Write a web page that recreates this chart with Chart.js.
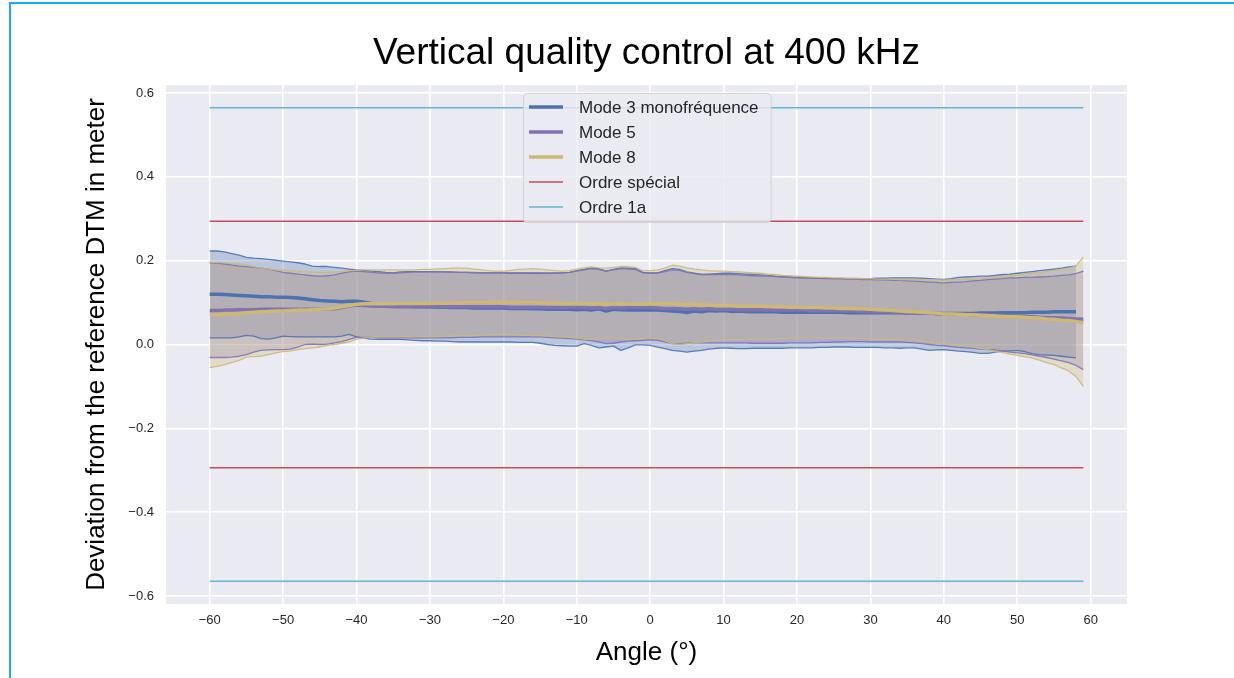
<!DOCTYPE html>
<html>
<head>
<meta charset="utf-8">
<script src="https://cdn.jsdelivr.net/npm/chart.js@4.4.1/dist/chart.umd.min.js"></script>
<style>
  html, body { margin:0; padding:0; background:#fff; overflow:hidden; }
  #wrap { position:relative; width:1234px; height:678px; }
  #frame { position:absolute; left:9px; top:2px; width:1400px; height:900px; border:2px solid #14aeee; box-sizing:border-box; pointer-events:none; }
  canvas { position:absolute; left:0; top:0; }
</style>
</head>
<body>
<div id="wrap">
  <canvas id="c" width="1234" height="678"></canvas>
  <div id="frame"></div>
</div>
<script>
// ---------- DATA ----------
const angles = [-60,-59,-58,-57,-56,-55,-54,-53,-52,-51,-50,-49,-48,-47,-46,-45,-44,-43,-42,-41,
  -40,-39,-38,-37,-36,-35,-34,-33,-32,-31,-30,-29,-28,-27,-26,-25,-24,-23,-22,-21,
  -20,-19,-18,-17,-16,-15,-14,-13,-12,-11,-10,-9,-8,-7,-6,-5,-4,-3,-2,-1,
  0,1,2,3,4,5,6,7,8,9,10,11,12,13,14,15,16,17,18,19,
  20,21,22,23,24,25,26,27,28,29,30,31,32,33,34,35,36,37,38,39,
  40,41,42,43,44,45,46,47,48,49,50,51,52,53,54,55,56,57,58,59];

// Mode 3 monofréquence (ends at 58°)
const mode3Mean = [0.120,0.120,0.119,0.118,0.117,0.116,0.115,0.114,0.114,0.113,
  0.113,0.112,0.111,0.109,0.107,0.105,0.104,0.103,0.102,0.103,
  0.103,0.101,0.098,0.094,0.093,0.092,0.091,0.091,0.090,0.090,
  0.090,0.089,0.089,0.088,0.088,0.088,0.087,0.087,0.087,0.087,
  0.087,0.086,0.086,0.086,0.085,0.085,0.084,0.084,0.084,0.084,
  0.083,0.084,0.082,0.085,0.080,0.084,0.083,0.082,0.083,0.082,
  0.083,0.082,0.081,0.080,0.079,0.076,0.080,0.078,0.081,0.080,
  0.081,0.079,0.080,0.079,0.078,0.078,0.078,0.078,0.077,0.077,
  0.077,0.077,0.077,0.077,0.077,0.077,0.077,0.076,0.076,0.076,
  0.076,0.076,0.076,0.076,0.076,0.075,0.075,0.075,0.075,0.074,
  0.074,0.074,0.074,0.074,0.074,0.075,0.075,0.075,0.076,0.076,
  0.076,0.076,0.077,0.077,0.077,0.078,0.078,0.078,0.078];
const mode3Upper = [0.223,0.223,0.221,0.217,0.213,0.208,0.206,0.205,0.203,0.201,
  0.199,0.197,0.195,0.192,0.187,0.186,0.186,0.184,0.182,0.180,
  0.178,0.177,0.175,0.174,0.172,0.171,0.173,0.174,0.174,0.174,
  0.174,0.174,0.173,0.173,0.172,0.172,0.171,0.171,0.171,0.171,
  0.171,0.170,0.171,0.170,0.170,0.170,0.170,0.171,0.171,0.172,
  0.176,0.179,0.183,0.181,0.175,0.179,0.183,0.182,0.181,0.172,
  0.171,0.171,0.176,0.181,0.179,0.173,0.170,0.167,0.168,0.169,
  0.170,0.170,0.169,0.168,0.167,0.166,0.165,0.163,0.162,0.161,
  0.160,0.159,0.159,0.158,0.158,0.157,0.157,0.157,0.157,0.157,
  0.157,0.158,0.158,0.159,0.159,0.159,0.159,0.158,0.157,0.156,
  0.155,0.157,0.160,0.161,0.162,0.163,0.163,0.165,0.167,0.168,
  0.170,0.172,0.174,0.176,0.178,0.180,0.182,0.185,0.187];
const mode3Lower = [0.016,0.016,0.016,0.016,0.018,0.022,0.020,0.014,0.013,0.016,
  0.020,0.019,0.018,0.018,0.018,0.018,0.018,0.018,0.020,0.024,
  0.018,0.015,0.013,0.012,0.012,0.012,0.012,0.011,0.010,0.009,
  0.009,0.008,0.008,0.007,0.006,0.006,0.006,0.006,0.006,0.006,
  0.006,0.006,0.005,0.005,0.005,0.003,0.000,-0.002,-0.003,-0.004,
  -0.004,0.002,-0.002,-0.008,-0.006,-0.004,-0.014,-0.008,-0.001,-0.001,
  -0.002,-0.006,-0.010,-0.014,-0.016,-0.018,-0.016,-0.014,-0.011,-0.009,
  -0.008,-0.009,-0.010,-0.010,-0.009,-0.009,-0.009,-0.009,-0.009,-0.008,
  -0.008,-0.008,-0.008,-0.007,-0.007,-0.006,-0.006,-0.006,-0.007,-0.007,
  -0.007,-0.007,-0.008,-0.008,-0.009,-0.008,-0.008,-0.011,-0.014,-0.013,
  -0.012,-0.014,-0.016,-0.017,-0.019,-0.021,-0.021,-0.018,-0.016,-0.015,
  -0.014,-0.017,-0.022,-0.024,-0.025,-0.026,-0.028,-0.030,-0.032];

// Mode 5
const mode5Mean = [0.081,0.081,0.082,0.082,0.083,0.083,0.083,0.084,0.084,0.084,
  0.084,0.084,0.084,0.084,0.084,0.084,0.085,0.085,0.088,0.092,
  0.094,0.093,0.092,0.091,0.091,0.090,0.090,0.090,0.090,0.090,
  0.090,0.090,0.090,0.090,0.090,0.090,0.090,0.090,0.090,0.090,
  0.090,0.089,0.089,0.089,0.089,0.089,0.088,0.088,0.088,0.088,
  0.088,0.088,0.087,0.088,0.086,0.088,0.087,0.088,0.088,0.088,
  0.088,0.087,0.086,0.086,0.085,0.084,0.085,0.084,0.085,0.084,
  0.084,0.084,0.083,0.083,0.083,0.083,0.082,0.082,0.082,0.082,
  0.082,0.082,0.081,0.081,0.081,0.081,0.080,0.080,0.080,0.079,
  0.079,0.078,0.078,0.077,0.077,0.076,0.076,0.075,0.075,0.074,
  0.073,0.073,0.072,0.072,0.071,0.071,0.070,0.070,0.069,0.068,
  0.068,0.067,0.066,0.065,0.064,0.064,0.063,0.062,0.061,0.060];
const mode5Upper = [0.195,0.194,0.192,0.190,0.187,0.186,0.184,0.182,0.180,0.176,
  0.172,0.170,0.168,0.166,0.164,0.163,0.164,0.166,0.170,0.173,
  0.175,0.174,0.172,0.171,0.170,0.170,0.171,0.172,0.173,0.173,
  0.173,0.173,0.173,0.172,0.172,0.172,0.172,0.171,0.171,0.171,
  0.171,0.171,0.171,0.171,0.171,0.171,0.170,0.170,0.171,0.172,
  0.175,0.178,0.181,0.179,0.175,0.178,0.181,0.180,0.179,0.171,
  0.170,0.170,0.174,0.178,0.177,0.172,0.169,0.167,0.167,0.167,
  0.167,0.167,0.166,0.165,0.164,0.163,0.163,0.162,0.161,0.160,
  0.159,0.159,0.158,0.158,0.157,0.157,0.157,0.156,0.156,0.155,
  0.155,0.154,0.154,0.153,0.153,0.152,0.151,0.150,0.149,0.148,
  0.147,0.148,0.149,0.150,0.152,0.153,0.155,0.156,0.157,0.159,
  0.159,0.160,0.160,0.161,0.162,0.163,0.165,0.166,0.169,0.175];
const mode5Lower = [-0.031,-0.031,-0.031,-0.030,-0.028,-0.024,-0.018,-0.014,-0.013,-0.012,
  -0.012,-0.011,-0.006,0.000,0.001,0.000,0.001,0.004,0.007,0.012,
  0.017,0.017,0.017,0.016,0.016,0.016,0.016,0.016,0.016,0.016,
  0.016,0.016,0.016,0.016,0.017,0.017,0.017,0.018,0.018,0.018,
  0.018,0.018,0.018,0.018,0.018,0.018,0.017,0.016,0.015,0.014,
  0.013,0.011,0.009,0.006,0.002,0.003,0.006,0.008,0.009,0.010,
  0.011,0.010,0.006,0.002,0.002,0.003,0.004,0.004,0.004,0.004,
  0.004,0.004,0.004,0.004,0.003,0.003,0.003,0.003,0.003,0.004,
  0.004,0.004,0.004,0.005,0.005,0.006,0.006,0.007,0.007,0.007,
  0.006,0.006,0.006,0.006,0.006,0.005,0.004,0.002,0.000,-0.002,
  -0.003,-0.005,-0.007,-0.008,-0.009,-0.011,-0.012,-0.013,-0.015,-0.018,
  -0.020,-0.022,-0.025,-0.028,-0.031,-0.035,-0.039,-0.043,-0.050,-0.060];

// Mode 8
const mode8Mean = [0.070,0.071,0.072,0.073,0.074,0.076,0.077,0.078,0.079,0.080,
  0.080,0.081,0.082,0.082,0.083,0.084,0.085,0.087,0.090,0.093,
  0.096,0.097,0.097,0.097,0.097,0.097,0.098,0.098,0.098,0.098,
  0.098,0.099,0.099,0.099,0.099,0.100,0.100,0.100,0.100,0.101,
  0.101,0.101,0.100,0.100,0.100,0.099,0.099,0.099,0.098,0.098,
  0.098,0.098,0.097,0.098,0.096,0.097,0.097,0.097,0.096,0.096,
  0.097,0.097,0.097,0.097,0.096,0.095,0.096,0.094,0.094,0.093,
  0.093,0.093,0.092,0.092,0.092,0.091,0.091,0.090,0.090,0.089,
  0.089,0.088,0.088,0.088,0.087,0.087,0.086,0.086,0.085,0.085,
  0.084,0.083,0.082,0.081,0.080,0.079,0.078,0.077,0.076,0.075,
  0.073,0.073,0.072,0.071,0.071,0.070,0.069,0.068,0.067,0.066,
  0.066,0.065,0.064,0.063,0.061,0.060,0.058,0.057,0.055,0.052];
const mode8Upper = [0.196,0.196,0.195,0.193,0.192,0.190,0.186,0.182,0.180,0.178,
  0.177,0.176,0.175,0.174,0.173,0.172,0.172,0.173,0.174,0.176,
  0.177,0.178,0.178,0.178,0.178,0.178,0.178,0.178,0.178,0.179,
  0.179,0.180,0.181,0.182,0.182,0.182,0.180,0.178,0.176,0.175,
  0.175,0.177,0.179,0.180,0.181,0.180,0.178,0.176,0.175,0.176,
  0.180,0.183,0.185,0.183,0.182,0.184,0.186,0.186,0.184,0.176,
  0.176,0.178,0.182,0.189,0.187,0.183,0.180,0.178,0.176,0.175,
  0.175,0.174,0.173,0.172,0.171,0.170,0.168,0.167,0.165,0.164,
  0.163,0.162,0.161,0.160,0.160,0.159,0.159,0.158,0.158,0.157,
  0.157,0.156,0.156,0.156,0.155,0.155,0.155,0.155,0.154,0.154,
  0.154,0.154,0.155,0.155,0.156,0.157,0.158,0.160,0.162,0.164,
  0.166,0.168,0.170,0.172,0.174,0.176,0.179,0.182,0.187,0.209];
const mode8Lower = [-0.055,-0.052,-0.048,-0.043,-0.038,-0.030,-0.029,-0.028,-0.024,-0.020,
  -0.017,-0.015,-0.012,-0.010,-0.008,-0.006,-0.002,0.000,0.003,0.006,
  0.012,0.016,0.017,0.018,0.018,0.018,0.018,0.018,0.019,0.019,
  0.019,0.019,0.020,0.020,0.021,0.021,0.022,0.023,0.023,0.024,
  0.024,0.024,0.023,0.022,0.021,0.021,0.020,0.019,0.018,0.017,
  0.015,0.013,0.012,0.014,0.016,0.015,0.014,0.013,0.013,0.014,
  0.015,0.016,0.010,0.002,0.000,0.002,0.004,0.006,0.008,0.010,
  0.012,0.012,0.012,0.013,0.013,0.013,0.013,0.014,0.014,0.015,
  0.015,0.016,0.016,0.016,0.016,0.016,0.016,0.015,0.015,0.014,
  0.014,0.013,0.013,0.012,0.012,0.011,0.010,0.008,0.006,0.004,
  0.002,0.000,-0.002,-0.004,-0.006,-0.009,-0.012,-0.016,-0.019,-0.023,
  -0.026,-0.029,-0.032,-0.037,-0.043,-0.048,-0.056,-0.063,-0.076,-0.100];

// Tolerance lines (IHO orders)
const limitRange = [-60, 59];
const ordreSpecial = [0.294, -0.294];
const ordre1a = [0.565, -0.565];

// Labels / ticks
const legendLabels = ['Mode 3 monofréquence', 'Mode 5', 'Mode 8', 'Ordre spécial', 'Ordre 1a'];
const xTicks = [-60,-50,-40,-30,-20,-10,0,10,20,30,40,50,60];
const yTicks = [-0.6,-0.4,-0.2,0.0,0.2,0.4,0.6];
const titleText = 'Vertical quality control at 400 kHz';
const xTitle = 'Angle (°)';
const yTitle = 'Deviation from the reference DTM in meter';

// ---------- STYLE ----------
const C = { blue:'#4C72B0', purple:'#8172B2', yellow:'#CCB974', red:'#C44E52', cyan:'#64B5CD' };
const FONT = '"Liberation Sans", Arial, Helvetica, sans-serif';
function rgba(hex, a){ const n=parseInt(hex.slice(1),16); return `rgba(${n>>16&255},${n>>8&255},${n&255},${a})`; }
function pts(vals){ return vals.map((v,i)=>({x:angles[i], y:v})); }
function hline(v){ return limitRange.map(x=>({x:x, y:v})); }
function minus(s){ return String(s).replace('-', '\u2212'); }

const datasets = [];
function addMode(up, low, mean, col, ord){
  const iUp = datasets.length;
  datasets.push({ data:pts(up), borderColor:rgba(col,0.9), borderWidth:1.3, backgroundColor:rgba(col,0.3), fill:iUp+1, order:ord, pointRadius:0, tension:0 });
  datasets.push({ data:pts(low), borderColor:rgba(col,0.9), borderWidth:1.3, fill:false, order:ord, pointRadius:0, tension:0 });
  datasets.push({ data:pts(mean), borderColor:col, borderWidth:3.5, fill:false, order:ord-0.5, pointRadius:0, tension:0 });
}
addMode(mode3Upper, mode3Lower, mode3Mean, C.blue, 3);
addMode(mode5Upper, mode5Lower, mode5Mean, C.purple, 2);
addMode(mode8Upper, mode8Lower, mode8Mean, C.yellow, 1);
ordreSpecial.forEach(v=>datasets.push({ data:hline(v), borderColor:C.red, borderWidth:1.5, fill:false, order:0, pointRadius:0 }));
ordre1a.forEach(v=>datasets.push({ data:hline(v), borderColor:C.cyan, borderWidth:1.5, fill:false, order:0, pointRadius:0 }));

const legendItems = [
  {label:legendLabels[0], color:C.blue, w:3.5},
  {label:legendLabels[1], color:C.purple, w:3.5},
  {label:legendLabels[2], color:C.yellow, w:3.5},
  {label:legendLabels[3], color:C.red, w:1.6},
  {label:legendLabels[4], color:C.cyan, w:1.6}
];

const bgPlugin = {
  id:'bg',
  beforeDraw(chart){
    const {ctx, chartArea:a} = chart;
    ctx.save(); ctx.fillStyle = '#EAEAF2'; ctx.fillRect(a.left, a.top, a.right-a.left, a.bottom-a.top); ctx.restore();
  },
  afterDraw(chart){
    const {ctx, chartArea:a} = chart;
    ctx.save();
    ctx.font = '37px ' + FONT; ctx.fillStyle = '#000'; ctx.textAlign = 'center'; ctx.textBaseline = 'middle';
    ctx.fillText(titleText, (a.left + a.right)/2, 54);
    ctx.restore();
  }
};
const legendPlugin = {
  id:'mplLegend',
  afterDatasetsDraw(chart){
    const {ctx, chartArea:a} = chart;
    ctx.save();
    ctx.font = '17px ' + FONT;
    let maxW = 0; legendItems.forEach(it=>{ maxW = Math.max(maxW, ctx.measureText(it.label).width); });
    const w = 6 + 34 + 16 + maxW + 12, h = 129;
    const cx = (a.left + a.right)/2;
    const x0 = Math.round(cx - w/2), y0 = a.top + 8;
    ctx.beginPath();
    if (ctx.roundRect) ctx.roundRect(x0+0.5, y0+0.5, w, h, 4); else ctx.rect(x0+0.5, y0+0.5, w, h);
    ctx.fillStyle = 'rgba(234,234,242,0.8)'; ctx.fill();
    ctx.strokeStyle = 'rgba(204,204,204,0.8)'; ctx.lineWidth = 1; ctx.stroke();
    legendItems.forEach((it, i)=>{
      const y = y0 + 14 + i*25;
      ctx.beginPath(); ctx.moveTo(x0+6, y); ctx.lineTo(x0+40, y);
      ctx.strokeStyle = it.color; ctx.lineWidth = it.w; ctx.stroke();
      ctx.fillStyle = '#262626'; ctx.textBaseline = 'middle'; ctx.textAlign = 'left';
      ctx.fillText(it.label, x0+56, y+1);
    });
    ctx.restore();
  }
};

new Chart(document.getElementById('c'), {
  type:'line',
  data:{ datasets },
  plugins:[bgPlugin, legendPlugin],
  options:{
    responsive:false, animation:false,
    layout:{ padding:{ left:0, right:107, top:85, bottom:0 } },
    elements:{ line:{ borderCapStyle:'butt', borderJoinStyle:'round' } },
    plugins:{
      legend:{ display:false },
      tooltip:{ enabled:false },
      title:{ display:false },
      filler:{ drawTime:'beforeDatasetsDraw' }
    },
    scales:{
      x:{
        type:'linear', min:-65.95, max:64.95,
        afterBuildTicks(s){ s.ticks = xTicks.map(v=>({value:v})); },
        afterFit(s){ s.height = 74; },
        ticks:{ callback:v=>minus(v), color:'#262626', font:{ family:FONT, size:13 }, padding:9, maxRotation:0, autoSkip:false },
        grid:{ color:'#ffffff', lineWidth:1.6, drawTicks:false },
        border:{ display:false },
        title:{ display:true, text:xTitle, color:'#000', font:{ family:FONT, size:26 }, padding:{ top:0, bottom:9.4 } }
      },
      y:{
        type:'linear', min:-0.619, max:0.619,
        afterBuildTicks(s){ s.ticks = yTicks.map(v=>({value:v})); },
        afterFit(s){ s.width = 166; },
        ticks:{ callback:v=>minus(Number(v).toFixed(1)), color:'#262626', font:{ family:FONT, size:13 }, padding:12, autoSkip:false },
        grid:{ color:'#ffffff', lineWidth:1.6, drawTicks:false },
        border:{ display:false },
        title:{ display:true, text:yTitle, color:'#000', font:{ family:FONT, size:26 }, padding:{ top:81.4, bottom:0 } }
      }
    }
  }
});
</script>
</body>
</html>
